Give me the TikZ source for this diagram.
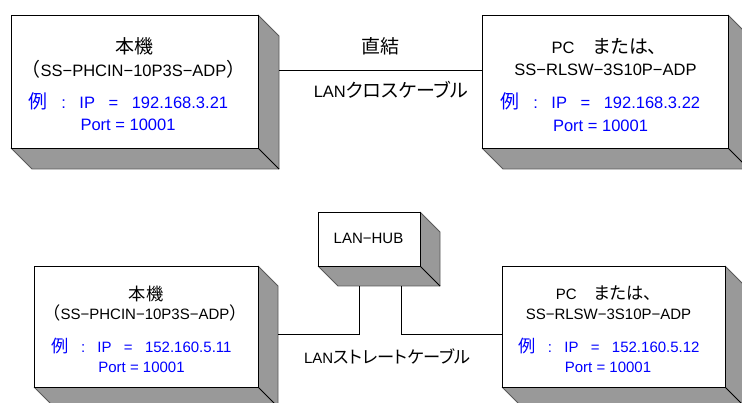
\documentclass[tikz,border=0pt]{standalone}
\usepackage{fontspec}
\usetikzlibrary{calc}
\setmainfont{Liberation Sans}
\newfontfamily\jp[Scale=1.15,RawFeature={+palt}]{Noto Sans CJK JP}
\newfontfamily\jpw[Scale=1.15]{Noto Sans CJK JP}
\definecolor{shadegray}{RGB}{153,153,153}
\definecolor{ipblue}{RGB}{0,0,255}
\pgfdeclarelayer{bg}
\pgfsetlayers{bg,main}
\newcommand\boxshade[2]{%
  \fill[shadegray] (#1.north east) -- ++(#2,#2) -- ([shift={(#2,#2)}]#1.south east)
     -- ([shift={(#2,#2)}]#1.south west) -- (#1.south west) -- (#1.south east) -- cycle;
  \draw[shadeedge] (#1.north east) -- ++(#2,#2) -- ([shift={(#2,#2)}]#1.south east)
     -- ([shift={(#2,#2)}]#1.south west) -- (#1.south west);
  \draw[shadeedge,draw=black] (#1.south east) -- ++(#2,#2);}
\newcommand\iprow[1]{{\jp 例}\hspace{0.82em}:\hspace{0.82em}IP\hspace{0.82em}=\hspace{0.82em}#1}
\begin{document}
\begin{tikzpicture}[x=1pt,y=-1pt,
  frontbox/.style={draw=black, fill=white, line width=0.9pt, inner sep=0pt, outer sep=0pt, anchor=north west},
  shadeedge/.style={draw=black!65, line width=0.8pt},
  txt/.style={inner sep=0pt, anchor=base},
  big/.style={font=\fontsize{16.5}{20}\selectfont},
  small/.style={font=\fontsize{15}{18}\selectfont},
  ip/.style={text=ipblue},
  wire/.style={draw=black, line width=0.8pt}]
\useasboundingbox (0,0) rectangle (742,403);

% boxes
\node[frontbox, minimum width=247pt, minimum height=133pt] (TL) at (11,15) {};
\node[frontbox, minimum width=246pt, minimum height=133pt] (TR) at (482,15) {};
\node[frontbox, minimum width=224pt, minimum height=121pt] (BL) at (34,266) {};
\node[frontbox, minimum width=223pt, minimum height=121pt] (BR) at (502,266) {};
\node[frontbox, minimum width=102pt, minimum height=54pt] (HUB) at (318,212) {};

\begin{pgfonlayer}{bg}
  \fill[white] (0,0) rectangle (742,403);
  \boxshade{TL}{21}
  \boxshade{TR}{21}
  \boxshade{BL}{20}
  \boxshade{BR}{20}
  \boxshade{HUB}{20}
\end{pgfonlayer}

% connectors
\coordinate (c1) at ($(TL.north east)+(21,55.5)$);
\draw[wire] (c1) -- (c1 -| TR.west);
\coordinate (h1) at ($(HUB.south west)+(41,20)$);
\coordinate (h2) at ($(HUB.south west)+(83,20)$);
\coordinate (b1) at ($(BL.south east)+(20,-53)$);
\draw[wire] (h1) |- (b1);
\draw[wire] (h2) |- (BR.west |- b1);

% top-left text
\node[txt,big] (tl1) at (134.5,53.5) {\jp 本機};
\node[txt,big] (tl2) at (133.5,76.5) {{\jpw （}SS−PHCIN−10P3S−ADP{\jpw ）}};
\node[txt,big,ip] (tl3) at (128.5,109) {\iprow{192.168.3.21}};
\node[txt,big,ip] (tl4) at (128,131) {Port = 10001};

% top-right text
\node[txt,big] (tr1) at (604.5,53.5) {PC{\jpw 　}{\jp または、}};
\node[txt,big] (tr2) at (605.5,76) {SS−RLSW−3S10P−ADP};
\node[txt,big,ip] (tr3) at (600.5,108.5) {\iprow{192.168.3.22}};
\node[txt,big,ip] (tr4) at (600.5,131.5) {Port = 10001};

% top link labels
\node[txt,big] (l1) at (380.5,53.5) {\jp 直結};
\node[txt,big] (l2) at (391,98) {LAN{\jp クロスケーブル}};

% bottom-left text
\node[txt,small] (bl1) at (146,301) {\jp 本機};
\node[txt,small] (bl2) at (145,320) {{\jpw （}SS−PHCIN−10P3S−ADP{\jpw ）}};
\node[txt,small,ip] (bl3) at (141.5,352.5) {\iprow{152.160.5.11}};
\node[txt,small,ip] (bl4) at (141.5,372.5) {Port = 10001};

% bottom-right text
\node[txt,small] (br1) at (604,300) {PC{\jpw 　}{\jp または、}};
\node[txt,small] (br2) at (608.5,320) {SS−RLSW−3S10P−ADP};
\node[txt,small,ip] (br3) at (609,352.5) {\iprow{152.160.5.12}};
\node[txt,small,ip] (br4) at (608,372.5) {Port = 10001};

% hub + bottom label
\node[txt,small] (hubt) at (368.5,244) {LAN−HUB};
\node[txt,small] (l3) at (387.5,363) {LAN{\jp ストレートケーブル}};
\end{tikzpicture}
\end{document}
